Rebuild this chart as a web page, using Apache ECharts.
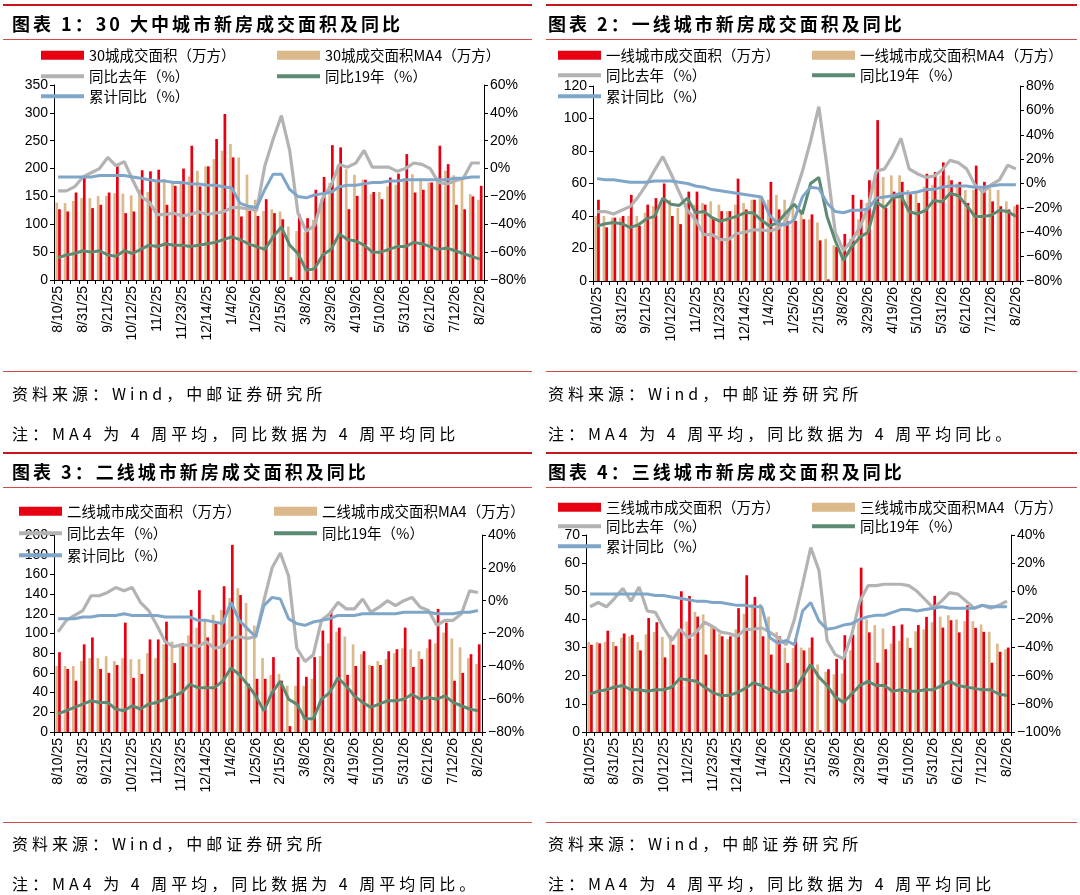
<!DOCTYPE html>
<html>
<head>
<meta charset="utf-8">
<title>新房成交面积及同比</title>
<script src="https://cdn.jsdelivr.net/npm/echarts@6.0.0/dist/echarts.min.js"></script>
<style>
    body { margin: 0; background: #fff; }
    #wrap { position: relative; width: 1080px; height: 895px; overflow: hidden; background: #fff; }
    #chart { position: absolute; left: 0; top: 0; width: 1080px; height: 895px; }
    .t { position: absolute; font-family: "Noto Sans CJK SC"; font-weight: bold; font-size: 18px; letter-spacing: 3px; line-height: 24px; color: #000; white-space: nowrap; }
    .s { position: absolute; font-family: "Noto Sans CJK SC"; font-size: 16px; letter-spacing: 4px; line-height: 22px; color: #000; white-space: nowrap; }
    .ln { position: absolute; background: #c8161d; }
</style>
</head>
<body>
<div id="wrap">
    <div id="chart"></div>

    <!-- 上排 -->
    <div class="ln" style="left:3px;top:4px;width:529px;height:2px;"></div>
    <div class="ln" style="left:546px;top:4px;width:531px;height:2px;"></div>
    <div class="t" style="left:12px;top:11px;">图表 1：30 大中城市新房成交面积及同比</div>
    <div class="t" style="left:548px;top:11px;">图表 2：一线城市新房成交面积及同比</div>
    <div class="ln" style="left:3px;top:39px;width:529px;height:1px;background:#d24a4a;"></div>
    <div class="ln" style="left:546px;top:39px;width:531px;height:1px;background:#d24a4a;"></div>
    <div class="ln" style="left:3px;top:371px;width:529px;height:1px;background:#d24a4a;"></div>
    <div class="ln" style="left:546px;top:371px;width:531px;height:1px;background:#d24a4a;"></div>
    <div class="s" style="left:12px;top:382px;">资料来源：Wind，中邮证券研究所</div>
    <div class="s" style="left:548px;top:382px;">资料来源：Wind，中邮证券研究所</div>
    <div class="s" style="left:12px;top:422px;">注：MA4 为 4 周平均，同比数据为 4 周平均同比</div>
    <div class="s" style="left:548px;top:422px;">注：MA4 为 4 周平均，同比数据为 4 周平均同比。</div>

    <!-- 下排 -->
    <div class="ln" style="left:3px;top:452px;width:529px;height:2px;"></div>
    <div class="ln" style="left:546px;top:452px;width:531px;height:2px;"></div>
    <div class="t" style="left:12px;top:459px;">图表 3：二线城市新房成交面积及同比</div>
    <div class="t" style="left:548px;top:459px;">图表 4：三线城市新房成交面积及同比</div>
    <div class="ln" style="left:3px;top:487px;width:529px;height:1px;background:#d24a4a;"></div>
    <div class="ln" style="left:546px;top:487px;width:531px;height:1px;background:#d24a4a;"></div>
    <div class="ln" style="left:3px;top:822px;width:529px;height:1px;background:#d24a4a;"></div>
    <div class="ln" style="left:546px;top:822px;width:531px;height:1px;background:#d24a4a;"></div>
    <div class="s" style="left:12px;top:832px;">资料来源：Wind，中邮证券研究所</div>
    <div class="s" style="left:548px;top:832px;">资料来源：Wind，中邮证券研究所</div>
    <div class="s" style="left:12px;top:872px;">注：MA4 为 4 周平均，同比数据为 4 周平均同比。</div>
    <div class="s" style="left:548px;top:872px;">注：MA4 为 4 周平均，同比数据为 4 周平均同比</div>
</div>

<script type="text/javascript">
    // 周度日期（横轴）
    var dates = ['8/10/25','8/17/25','8/24/25','8/31/25','9/7/25','9/14/25','9/21/25','9/28/25','10/5/25','10/12/25',
        '10/19/25','10/26/25','11/2/25','11/9/25','11/16/25','11/23/25','11/30/25','12/7/25','12/14/25','12/21/25',
        '12/28/25','1/4/26','1/11/26','1/18/26','1/25/26','2/1/26','2/8/26','2/15/26','2/22/26','3/1/26',
        '3/8/26','3/15/26','3/22/26','3/29/26','4/5/26','4/12/26','4/19/26','4/26/26','5/3/26','5/10/26',
        '5/17/26','5/24/26','5/31/26','6/7/26','6/14/26','6/21/26','6/28/26','7/5/26','7/12/26','7/19/26',
        '7/26/26','8/2/26'];

    // 图表1：30城
    var p1Red = [127,123,157,184,129,135,157,205,120,123,197,195,198,135,169,200,241,168,204,253,
        298,220,114,124,115,145,120,109,5,118,111,162,185,242,238,127,151,180,158,145,
        184,191,226,157,162,175,241,208,135,127,150,169];
    var p1Ma4 = [139,138,142,147,147,151,151,156,155,152,162,158,180,181,178,174,186,196,204,217,
        232,244,220,189,144,124,127,123,96,88,86,108,145,174,206,199,189,180,154,158,
        168,171,183,190,183,175,177,196,188,184,154,144];
    var p1Yoy = [-16,-16,-13,-6,-3,0,8,2,5,-8,-20,-24,-33,-33,-32,-34,-33,-31,-33,-32,
        -31,-28,-28,-29,-30,2,21,38,13,-32,-45,-41,-21,-12,3,1,4,13,1,1,
        1,-2,0,4,3,0,-10,-11,-9,-7,4,4];
    var p1Yoy19 = [-64,-62,-61,-59,-60,-59,-62,-63,-59,-61,-58,-55,-56,-54,-55,-55,-56,-55,-54,-53,
        -51,-49,-51,-54,-56,-58,-49,-42,-55,-61,-73,-72,-62,-58,-47,-51,-52,-55,-60,-60,
        -58,-56,-56,-53,-54,-56,-58,-57,-59,-61,-63,-65];
    var p1Cum = [-6,-6,-6,-6,-6,-5,-5,-5,-5,-6,-7,-8,-9,-9,-10,-10,-11,-11,-12,-12,
        -13,-14,-25,-27,-28,-15,-4,-4,-15,-20,-21,-19,-18,-17,-13,-12,-12,-11,-10,-10,
        -9,-9,-8,-8,-8,-8,-8,-8,-7,-7,-6,-6];

    // 图表2：一线城市
    var p2Red = [50,33,39,40,53,34,47,51,60,40,35,55,55,47,39,43,43,63,44,50,
        50,61,44,37,37,38,41,25,1,21,29,53,50,62,99,45,55,61,54,48,
        66,67,73,62,61,48,71,61,49,46,44,47];
    var p2Ma4 = [40,40,39,39,40,40,42,46,48,50,45,48,47,48,49,47,43,47,48,50,
        51,50,53,50,47,44,38,36,26,22,18,26,38,48,66,64,65,65,56,54,
        58,59,65,65,60,56,56,56,57,56,49,46];
    var p2Yoy = [-23,-23,-25,-22,-19,-11,-1,11,22,8,-7,-22,-30,-42,-42,-46,-46,-41,-40,-38,
        -38,-39,-37,-31,-11,10,35,63,14,-40,-55,-47,-36,-19,10,12,23,37,12,8,
        5,6,11,19,17,12,-1,-7,-1,3,15,12];
    var p2Yoy19 = [-35,-33,-32,-33,-36,-34,-29,-27,-12,-17,-18,-12,-24,-23,-28,-31,-29,-27,-24,-24,
        -30,-35,-32,-24,-17,-25,0,5,-27,-47,-63,-52,-44,-40,-15,-20,-12,-10,-23,-25,
        -22,-14,-15,-8,-10,-18,-27,-27,-26,-22,-23,-27];
    var p2Cum = [4,3,3,2,1,1,1,2,2,2,1,0,-2,-3,-5,-6,-7,-8,-9,-10,
        -11,-26,-33,-34,-30,-11,-3,-4,-16,-23,-24,-22,-22,-21,-12,-11,-10,-8,-8,-7,
        -5,-5,-3,-2,-2,-2,-3,-3,-2,-1,-1,-1];

    // 图表3：二线城市
    var p3Red = [81,64,52,89,96,64,60,68,111,55,59,94,94,112,70,90,124,144,96,110,
        148,190,139,49,54,54,76,52,6,76,56,76,103,123,106,58,67,82,67,68,
        82,84,106,66,74,94,125,111,52,60,79,89];
    var p3Ma4 = [67,67,67,72,75,75,77,72,75,74,74,80,75,89,92,90,98,106,114,119,
        124,136,146,131,108,75,58,59,47,47,47,54,77,90,102,97,89,79,68,72,
        74,80,85,84,82,85,90,101,95,86,75,69];
    var p3Yoy = [-19,-12,-9,-6,3,3,5,8,6,8,-1,-6,-15,-25,-28,-27,-27,-28,-25,-29,
        -28,-23,-22,-23,-22,0,20,29,15,-29,-37,-33,-12,-8,-1,-5,-5,1,-7,-4,
        0,-3,0,2,-4,-6,-15,-12,-12,-8,6,5];
    var p3Yoy19 = [-69,-67,-65,-63,-61,-62,-62,-66,-67,-64,-66,-63,-62,-60,-58,-56,-51,-53,-53,-53,
        -49,-41,-45,-51,-58,-67,-56,-49,-60,-63,-72,-72,-60,-56,-47,-52,-58,-62,-65,-63,
        -61,-61,-60,-57,-60,-59,-60,-58,-62,-64,-66,-67];
    var p3Cum = [-11,-11,-11,-10,-10,-9,-9,-9,-8,-9,-9,-9,-9,-10,-10,-10,-10,-12,-12,-13,
        -14,-1,-12,-17,-22,-3,2,1,-11,-14,-15,-13,-12,-11,-9,-9,-9,-8,-8,-8,
        -8,-8,-7,-7,-7,-7,-8,-8,-8,-7,-7,-6];

    // 图表4：三线城市
    var p4Red = [31,31.5,36,30.5,35,34.5,29,40.5,39,26.5,31,50,48.3,41,27.5,37.5,34,34,44,55.7,
        48,34,27.5,34,24.5,33,29,33.6,0.6,22.3,26,34.4,34.6,58.4,35.4,24.6,29.4,37.7,38.2,29.9,
        38,40.9,48.4,37.1,39.7,35.4,45,37,35.6,24.6,28.5,30];
    var p4Ma4 = [32,32,32,32,33.5,34,32,34.7,35.5,33.8,34.5,36.5,39.2,42.7,41.8,38,35,33,36.5,42,
        45.5,45.5,41,35.5,30,29.8,30,30,24,21.4,20.5,20.8,29,39,40,38,36.8,31.4,32.4,33.5,
        35.8,36.5,39,41,41.5,40,39.4,39.4,38.2,35.6,31.4,29.4];
    var p4Yoy = [-11,-8,-11,-5,2,-7,3,-14,-15,-26,-35,-27,-33,-29,-22,-25,-29,-30,-32,-27,
        -27,-26,-29,-33,-38,-20,5,31,15,-35,-45,-48,-31,-7,4,4,5,5,5,4,
        0,-6,-12,-7,-1,-2,-7,-12,-10,-12,-10,-7];
    var p4Yoy19 = [-73,-71,-70,-68,-67,-70,-70,-71,-70,-70,-68,-62,-63,-64,-68,-72,-74,-74,-72,-69,
        -65,-67,-70,-72,-71,-70,-61,-52,-61,-67,-75,-79,-73,-67,-64,-67,-67,-71,-70,-71,
        -71,-70,-70,-67,-64,-67,-68,-69,-70,-70,-73,-74];
    var p4Cum = [-2,-2,-2,-2,-2,-2,-2,-2,-3,-3,-4,-5,-6,-7,-7,-8,-8,-9,-10,-10,
        -11,-11,-33,-37,-35,-38,-14,-8,-21,-27,-26,-24,-23,-20,-18,-17,-17,-15,-13,-13,
        -14,-13,-12,-11,-12,-12,-12,-12,-10,-11,-11,-11];

    var RED = '#e60012', TAN = '#dcb98b', GRAY = '#b3b3b3', GREEN = '#5d8a73', BLUE = '#7fa6c8';
    var NUM_FONT = 'Liberation Sans';
    var CJK_FONT = 'Noto Sans CJK SC';

    var panels = [
        { grid: {left: 54, top: 85, width: 430, height: 195}, lmax: 350, lint: 50, rmin: -80, rmax: 60,
          red: p1Red, ma4: p1Ma4, yoy: p1Yoy, yoy19: p1Yoy19, cum: p1Cum,
          redName: '30城成交面积（万方）', ma4Name: '30城成交面积MA4（万方）', x1: 41, x2: 277, rows: [56, 77, 97] },
        { grid: {left: 593, top: 86, width: 427, height: 195}, lmax: 120, lint: 20, rmin: -80, rmax: 80,
          red: p2Red, ma4: p2Ma4, yoy: p2Yoy, yoy19: p2Yoy19, cum: p2Cum,
          redName: '一线城市成交面积（万方）', ma4Name: '一线城市成交面积MA4（万方）', x1: 558, x2: 812, rows: [56, 76, 97] },
        { grid: {left: 54, top: 535, width: 428, height: 197}, lmax: 200, lint: 20, rmin: -80, rmax: 40,
          red: p3Red, ma4: p3Ma4, yoy: p3Yoy, yoy19: p3Yoy19, cum: p3Cum,
          redName: '二线城市成交面积（万方）', ma4Name: '二线城市成交面积MA4（万方）', x1: 19, x2: 274, rows: [512, 534, 556] },
        { grid: {left: 586, top: 535, width: 425, height: 197}, lmax: 70, lint: 10, rmin: -100, rmax: 40,
          red: p4Red, ma4: p4Ma4, yoy: p4Yoy, yoy19: p4Yoy19, cum: p4Cum,
          redName: '三线城市成交面积（万方）', ma4Name: '三线城市成交面积MA4（万方）', x1: 558, x2: 812, rows: [508, 527, 547] }
    ];

    var pct = function (v) { return (v < 0 ? '\u2212' + (-v) : v) + '%'; };

    var grid = [], xAxis = [], yAxis = [], series = [], legend = [];

    function leg(name, x, cy, isBar) {
        return {
            data: [name], left: x, top: cy - 8, padding: 0, icon: 'rect',
            itemWidth: 43, itemHeight: isBar ? 9 : 4, selectedMode: false,
            textStyle: {fontSize: 14.5, color: '#000', fontFamily: CJK_FONT}
        };
    }

    panels.forEach(function (p, i) {
        grid.push(p.grid);
        xAxis.push({
            type: 'category', gridIndex: i, data: dates, boundaryGap: true,
            axisLine: {lineStyle: {color: '#000', width: 1}},
            axisTick: {show: true, interval: 0, length: 4, lineStyle: {color: '#000'}},
            axisLabel: {interval: 2, rotate: 90, fontSize: 14, color: '#000', margin: 6, fontFamily: NUM_FONT},
            splitLine: {show: false}
        });
        yAxis.push({
            type: 'value', gridIndex: i, position: 'left', min: 0, max: p.lmax, interval: p.lint,
            axisLine: {show: true, lineStyle: {color: '#000'}},
            axisTick: {show: true, length: 4, lineStyle: {color: '#000'}},
            axisLabel: {fontSize: 14, color: '#000', margin: 6, fontFamily: NUM_FONT},
            splitLine: {show: false}
        });
        yAxis.push({
            type: 'value', gridIndex: i, position: 'right', min: p.rmin, max: p.rmax, interval: 20,
            axisLine: {show: true, lineStyle: {color: '#000'}},
            axisTick: {show: true, length: 4, lineStyle: {color: '#000'}},
            axisLabel: {fontSize: 14, color: '#000', margin: 6, fontFamily: NUM_FONT, formatter: pct},
            splitLine: {show: false}
        });
        series.push({
            type: 'bar', name: p.ma4Name, xAxisIndex: i, yAxisIndex: 2 * i, data: p.ma4,
            barWidth: 2.7, barGap: '0%', itemStyle: {color: TAN}
        });
        series.push({
            type: 'bar', name: p.redName, xAxisIndex: i, yAxisIndex: 2 * i, data: p.red,
            barWidth: 2.7, barGap: '0%', itemStyle: {color: RED}
        });
        series.push({
            type: 'line', name: '同比去年（%）', xAxisIndex: i, yAxisIndex: 2 * i + 1, data: p.yoy,
            symbol: 'none', lineStyle: {width: 3.2, color: GRAY}, itemStyle: {color: GRAY}
        });
        series.push({
            type: 'line', name: '同比19年（%）', xAxisIndex: i, yAxisIndex: 2 * i + 1, data: p.yoy19,
            symbol: 'none', lineStyle: {width: 3, color: GREEN}, itemStyle: {color: GREEN}
        });
        series.push({
            type: 'line', name: '累计同比（%）', xAxisIndex: i, yAxisIndex: 2 * i + 1, data: p.cum,
            symbol: 'none', lineStyle: {width: 3, color: BLUE}, itemStyle: {color: BLUE}
        });

        legend.push(leg(p.redName, p.x1, p.rows[0], true));
        legend.push(leg(p.ma4Name, p.x2, p.rows[0], true));
        legend.push(leg('同比去年（%）', p.x1, p.rows[1], false));
        legend.push(leg('同比19年（%）', p.x2, p.rows[1], false));
        legend.push(leg('累计同比（%）', p.x1, p.rows[2], false));
    });

    var myChart = echarts.init(document.getElementById('chart'));
    myChart.setOption({
        animation: false,
        backgroundColor: 'transparent',
        grid: grid,
        xAxis: xAxis,
        yAxis: yAxis,
        legend: legend,
        series: series
    });
</script>
</body>
</html>
